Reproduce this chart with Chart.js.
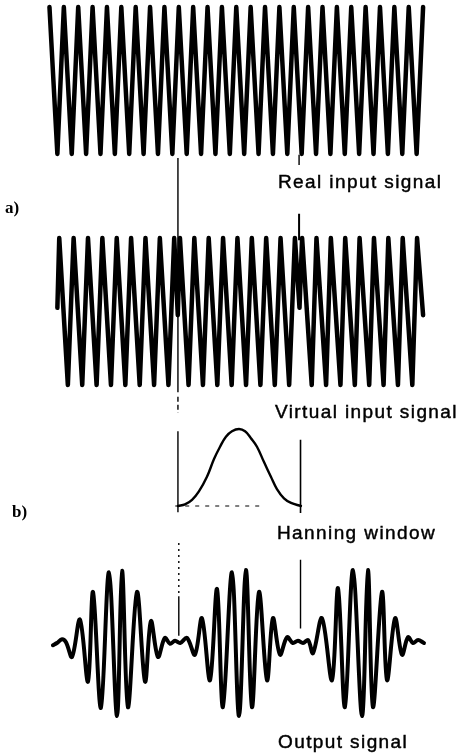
<!DOCTYPE html>
<html>
<head>
<meta charset="utf-8">
<script src="https://cdn.jsdelivr.net/npm/chart.js@4/dist/chart.umd.min.js"></script>
<style>
  html, body { margin: 0; padding: 0; background: #fff; }
  #wrap { position: relative; width: 466px; height: 754px; overflow: hidden; background: #fff; }
  #c { position: absolute; left: 0; top: 0; }
  .lbl { position: absolute; font-family: "Liberation Sans", Arial, sans-serif; font-size: 19px; line-height: 19px; letter-spacing: 1.4px; color: #000; white-space: nowrap; -webkit-text-stroke: 0.45px #000; }
  .tag { position: absolute; font-family: "Liberation Serif", "Times New Roman", serif; font-weight: bold; font-size: 17px; line-height: 17px; color: #000; }
</style>
</head>
<body>
<div id="wrap">
  <canvas id="c" width="466" height="754"></canvas>
  <div class="lbl" style="left:278px; top:172px;">Real input signal</div>
  <div class="tag" style="left:5px; top:199px;">a)</div>
  <div class="lbl" style="left:275px; top:402px;">Virtual input signal</div>
  <div class="tag" style="left:12px; top:503px;">b)</div>
  <div class="lbl" style="left:277px; top:523px;">Hanning window</div>
  <div class="lbl" style="left:278px; top:732px;">Output signal</div>
</div>
<script>
// ---------- data (time in signal periods, amplitude normalised) ----------
const realT = [-0.55, 0, 0.45, 1, 1.45, 2, 2.45, 3, 3.45, 4, 4.45, 5, 5.45, 6, 6.45, 7, 7.45, 8, 8.45, 9, 9.45, 10, 10.45, 11, 11.45, 12, 12.45, 13, 13.45, 14, 14.45, 15, 15.45, 16, 16.45, 17, 17.45, 18, 18.45, 19, 19.45, 20, 20.45, 21, 21.45, 22, 22.45, 23, 23.45, 24, 24.45, 25, 25.45];
const realV = [1, -1, 1, -1, 1, -1, 1, -1, 1, -1, 1, -1, 1, -1, 1, -1, 1, -1, 1, -1, 1, -1, 1, -1, 1, -1, 1, -1, 1, -1, 1, -1, 1, -1, 1, -1, 1, -1, 1, -1, 1, -1, 1, -1, 1, -1, 1, -1, 1, -1, 1, -1, 1];

const virtT = [0, 0.13, 0.73, 1.13, 1.73, 2.13, 2.73, 3.13, 3.73, 4.13, 4.73, 5.13, 5.73, 6.13, 6.73, 7.13, 7.73, 8.13, 8.38,
  8.53, 9.13, 9.53, 10.13, 10.53, 11.13, 11.53, 12.13, 12.53, 13.13, 13.53, 14.13, 14.53, 15.13, 15.53, 16.13, 16.53, 16.85,
  17.03, 17.7, 18.03, 18.7, 19.03, 19.7, 20.03, 20.7, 21.03, 21.7, 22.03, 22.7, 23.03, 23.7, 24.03, 24.7, 25.03, 25.45];
const virtV = [0.05, 1, -1, 1, -1, 1, -1, 1, -1, 1, -1, 1, -1, 1, -1, 1, -1, 1, -0.05,
  1, -1, 1, -1, 1, -1, 1, -1, 1, -1, 1, -1, 1, -1, 1, -1, 1, 0.05,
  1, -1, 1, -1, 1, -1, 1, -1, 1, -1, 1, -1, 1, -1, 1, -1, 1, -0.05];

const hannT = [8.39, 8.88, 9.37, 9.85, 10.41, 10.90, 11.32, 11.73, 12.15, 12.64, 13.06, 13.47, 13.89, 14.38, 14.86, 15.28, 15.77, 16.26, 16.95];
const hannV = [0, 0.02, 0.08, 0.19, 0.38, 0.61, 0.77, 0.90, 0.97, 1.0, 0.97, 0.88, 0.77, 0.57, 0.38, 0.22, 0.10, 0.04, 0];

const outT = [-0.31, -0.03, 0.32, 0.6, 1.02, 1.57, 2.13, 2.48, 3.03, 3.59, 4.15, 4.50, 4.91, 5.54, 6.10, 6.51, 7.0, 7.48, 7.84, 8.19, 8.54,
  9.02, 9.57, 10.06, 10.62, 11.11, 11.52, 12.15, 12.64, 13.12, 13.54, 14.03, 14.59, 15.0, 15.49, 15.98, 16.39, 16.74, 17.09,
  17.45, 17.79, 18.41, 19.11, 19.53, 20.01, 20.57, 21.2, 21.61, 21.96, 22.59, 22.94, 23.5, 23.98, 24.4, 24.75, 25.1, 25.51];
const outV = [-0.03, 0, 0.05, 0.01, -0.19, 0.32, -0.53, 0.70, -0.89, 0.97, -1.0, 0.99, -0.88, 0.70, -0.53, 0.30, -0.19, 0.07, -0.01, 0.03, 0,
  0.07, -0.16, 0.34, -0.51, 0.74, -0.88, 0.97, -1.0, 1.0, -0.88, 0.70, -0.51, 0.34, -0.16, 0.08, 0, 0.03, 0,
  0.04, -0.14, 0.34, -0.51, 0.75, -0.88, 1.0, -1.0, 1.0, -0.88, 0.70, -0.51, 0.34, -0.16, 0.08, 0, 0.04, 0];

const windowEdges = [8.39, 16.92];   // window start / end (periods)
const baselineSpan = [8.2, 14.4];    // dotted zero line under the window

// ---------- layout helpers ----------
const H = 754;
function band(vTop, pxTop, vBot, pxBot) {
  const k = (pxBot - pxTop) / (vTop - vBot);
  const max = vTop + pxTop / k;
  return { min: max - H / k, max: max };
}
const pts = (ts, vs) => ts.map((t, i) => ({ x: t, y: vs[i] }));
const seg = (t, axis, a, b, width, dash) => ({
  data: [{ x: t, y: a }, { x: t, y: b }], yAxisID: axis, borderColor: '#000',
  borderWidth: width, borderDash: dash || [], pointRadius: 0, tension: 0, borderCapStyle: 'butt'
});

const sig = (data, axis, width, tension) => ({
  data, yAxisID: axis, borderColor: '#000', borderWidth: width, pointRadius: 0,
  tension, borderJoinStyle: 'round', borderCapStyle: 'round', fill: false
});

const [wL, wR] = windowEdges;
const datasets = [
  sig(pts(realT, realV), 'yReal', 4.5, 0),
  sig(pts(virtT, virtV), 'yVirt', 4.5, 0),
  sig(pts(hannT, hannV), 'yHann', 2.4, 0.4),
  sig(pts(outT, outV), 'yOut', 4, 0.35),
  { data: [{ x: baselineSpan[0], y: 0 }, { x: baselineSpan[1], y: 0 }], yAxisID: 'yHann', borderColor: '#000',
    borderWidth: 1.2, borderDash: [4, 6], pointRadius: 0 },
  // left window edge
  seg(wL, 'yVirt', 2.09, -1.1, 1.4),
  seg(wL, 'yVirt', -1.16, -1.38, 1.4, [5, 3]),
  seg(wL, 'yHann', 0.97, -0.08, 1.4),
  seg(wL + 0.06, 'yOut', 1.37, 0.64, 1.4, [2, 4]),
  seg(wL + 0.06, 'yOut', 0.64, 0.1, 1.4),
  // right window edge
  seg(wR - 0.1, 'yReal', -1.01, -1.15, 1.4),
  seg(wR - 0.1, 'yVirt', 1.33, 0.97, 2),
  seg(wR, 'yHann', 0.86, -0.09, 1.6),
  seg(wR, 'yOut', 1.14, 0.2, 1.4)
];

const hidden = (r) => Object.assign({ type: 'linear', display: false }, r);

new Chart(document.getElementById('c'), {
  type: 'line',
  data: { datasets },
  options: {
    responsive: false,
    animation: false,
    devicePixelRatio: 1,
    events: [],
    layout: { padding: { left: 43, right: 35, top: 0, bottom: 0 } },
    plugins: { legend: { display: false }, tooltip: { enabled: false }, title: { display: false } },
    scales: {
      x: hidden({ min: -1, max: 26 }),
      yReal: hidden(band(1, 7, -1, 154)),
      yVirt: hidden(band(1, 238, -1, 385)),
      yHann: hidden(band(1, 429, 0, 506)),
      yOut: hidden(band(1, 570, -1, 716))
    }
  }
});
</script>
</body>
</html>
